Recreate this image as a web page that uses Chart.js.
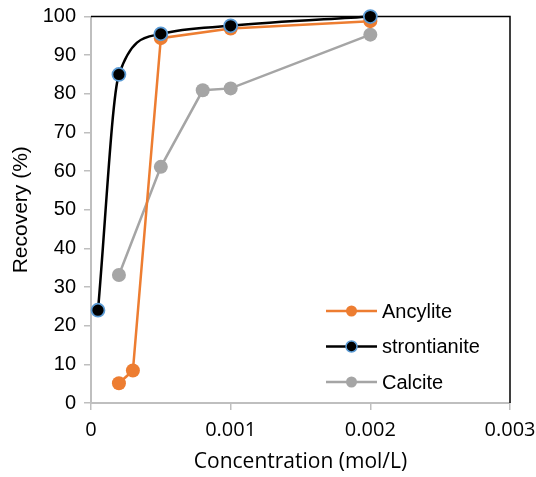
<!DOCTYPE html>
<html>
<head>
<meta charset="utf-8">
<script src="https://cdn.jsdelivr.net/npm/chart.js@4"></script>
<style>
  html, body { margin: 0; padding: 0; background: #fff; }
  #wrap { width: 536px; height: 477px; }
</style>
</head>
<body>
<div id="wrap"><canvas id="recoveryChart" width="536" height="477"></canvas></div>
<script>
const seriesNames = ["Ancylite", "strontianite", "Calcite"];

const ancyliteConc = [0.0002, 0.0003, 0.0005, 0.001, 0.002];
const ancyliteRecovery = [5.1, 8.4, 94.4, 96.9, 98.8];

const strontianiteConc = [0.00005, 0.0002, 0.0005, 0.001, 0.002];
const strontianiteRecovery = [24, 85, 95.5, 97.6, 100];

const calciteConc = [0.0002, 0.0005, 0.0008, 0.001, 0.002];
const calciteRecovery = [33.1, 61.1, 80.9, 81.4, 95.3];

const xTicks = [0, 0.001, 0.002, 0.003];
const yTicks = [0, 10, 20, 30, 40, 50, 60, 70, 80, 90, 100];

function toPoints(xs, ys) {
  return xs.map((x, i) => ({ x: x, y: ys[i] }));
}

const sansFont = "'Liberation Sans', Arial, sans-serif";
const bodyFont = "'Open Sans', sans-serif";
const axisGray = "#bfbfbf";

// legend drawn inside the plot, lower right
const insideLegend = {
  id: "insideLegend",
  afterDraw(chart) {
    const ctx = chart.ctx;
    const left = 326, top = 311, rowGap = 35.5;
    ctx.save();
    ctx.font = "20px " + sansFont;
    ctx.textBaseline = "middle";
    chart.data.datasets.forEach((ds, i) => {
      const y = top + i * rowGap;
      ctx.strokeStyle = ds.borderColor;
      ctx.lineWidth = 2.5;
      ctx.beginPath();
      ctx.moveTo(left, y);
      ctx.lineTo(left + 51, y);
      ctx.stroke();
      ctx.beginPath();
      ctx.arc(left + 25.5, y, 5.5, 0, Math.PI * 2);
      ctx.fillStyle = ds.pointBackgroundColor;
      ctx.fill();
      if (ds.pointBorderColor !== ds.pointBackgroundColor) {
        ctx.lineWidth = 1.5;
        ctx.strokeStyle = ds.pointBorderColor;
        ctx.stroke();
      }
      ctx.fillStyle = "#000";
      ctx.fillText(seriesNames[i], left + 56, y + 1);
    });
    ctx.restore();
  }
};

// black frame on the top and right of the plot
const plotFrame = {
  id: "plotFrame",
  beforeDatasetsDraw(chart) {
    const a = chart.chartArea;
    const ctx = chart.ctx;
    ctx.save();
    ctx.strokeStyle = "#000";
    ctx.lineWidth = 1.5;
    ctx.beginPath();
    ctx.moveTo(a.left, a.top);
    ctx.lineTo(a.right, a.top);
    ctx.lineTo(a.right, a.bottom);
    ctx.stroke();
    ctx.restore();
  }
};

new Chart(document.getElementById("recoveryChart").getContext("2d"), {
  type: "line",
  data: {
    datasets: [
      {
        label: seriesNames[0],
        data: toPoints(ancyliteConc, ancyliteRecovery),
        borderColor: "#ed7d31",
        backgroundColor: "#ed7d31",
        pointBackgroundColor: "#ed7d31",
        pointBorderColor: "#ed7d31",
        borderWidth: 2.5,
        pointRadius: 7,
        pointBorderWidth: 0,
        tension: 0,
        clip: false,
        order: 1
      },
      {
        label: seriesNames[1],
        data: toPoints(strontianiteConc, strontianiteRecovery),
        borderColor: "#000000",
        backgroundColor: "#000000",
        pointBackgroundColor: "#000000",
        pointBorderColor: "#5b9bd5",
        borderWidth: 2.5,
        pointRadius: 6.5,
        pointBorderWidth: 1.75,
        cubicInterpolationMode: "monotone",
        clip: false,
        order: 0
      },
      {
        label: seriesNames[2],
        data: toPoints(calciteConc, calciteRecovery),
        borderColor: "#a5a5a5",
        backgroundColor: "#a5a5a5",
        pointBackgroundColor: "#a5a5a5",
        pointBorderColor: "#a5a5a5",
        borderWidth: 2.5,
        pointRadius: 7,
        pointBorderWidth: 0,
        tension: 0,
        clip: false,
        order: 2
      }
    ]
  },
  options: {
    responsive: false,
    animation: false,
    layout: { padding: { top: 16.5, right: 26, left: 0, bottom: 0 } },
    plugins: {
      legend: { display: false },
      tooltip: { enabled: false }
    },
    scales: {
      x: {
        type: "linear",
        min: xTicks[0],
        max: xTicks[xTicks.length - 1],
        afterBuildTicks(scale) {
          scale.ticks = xTicks.map(v => ({ value: v }));
        },
        afterFit(scale) {
          scale.height = 74;
          scale.paddingLeft = 0;
          scale.paddingRight = 0;
        },
        border: { color: axisGray, width: 2 },
        grid: { drawOnChartArea: false, color: axisGray, tickLength: 7, lineWidth: 1.5 },
        ticks: {
          color: "#000",
          font: { family: bodyFont, size: 20 },
          padding: 8,
          callback: v => String(+v.toFixed(3))
        },
        title: {
          display: true,
          text: "Concentration (mol/L)",
          color: "#000",
          font: { family: bodyFont, size: 21 },
          padding: { top: 0, bottom: 2 }
        }
      },
      y: {
        min: yTicks[0],
        max: yTicks[yTicks.length - 1],
        afterBuildTicks(scale) {
          scale.ticks = yTicks.map(v => ({ value: v }));
        },
        afterFit(scale) {
          scale.width = 91;
          scale.paddingTop = 0;
          scale.paddingBottom = 0;
        },
        border: { color: axisGray, width: 2 },
        grid: { drawOnChartArea: false, color: axisGray, tickLength: 7, lineWidth: 1.5 },
        ticks: {
          color: "#000",
          font: { family: sansFont, size: 20 },
          padding: 8
        },
        title: {
          display: true,
          text: "Recovery (%)",
          color: "#000",
          font: { family: sansFont, size: 21 },
          padding: { top: 9, bottom: 0 }
        }
      }
    }
  },
  plugins: [plotFrame, insideLegend]
});
</script>
</body>
</html>
